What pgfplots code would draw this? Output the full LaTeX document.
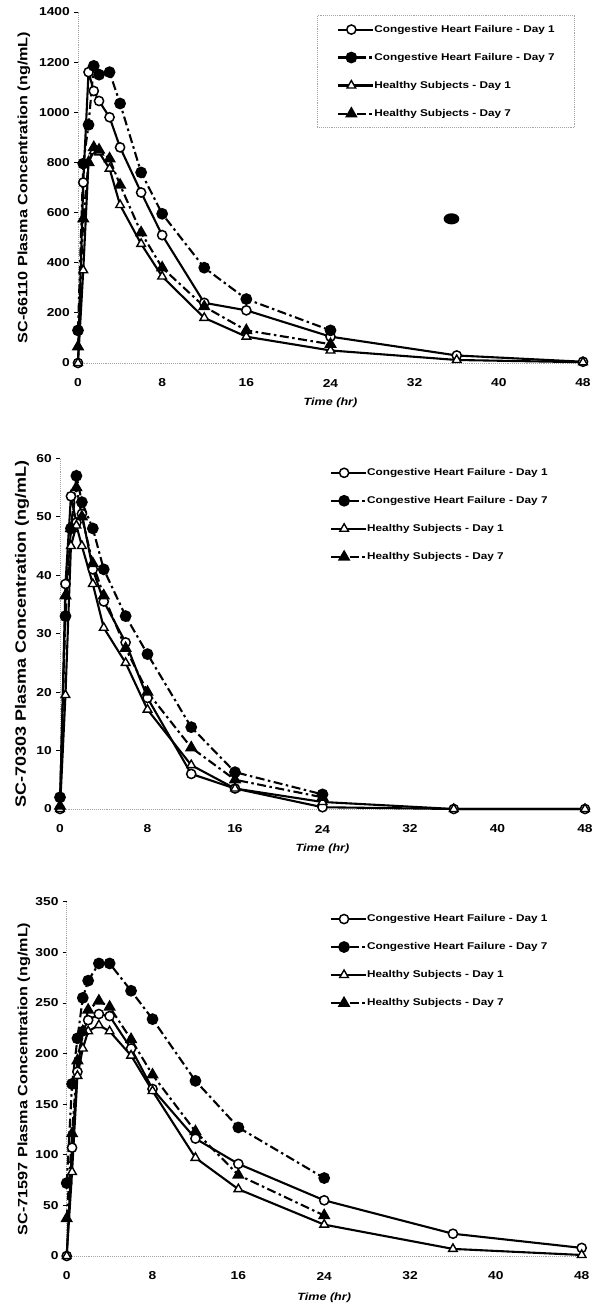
\documentclass[border=0pt]{standalone}
\usepackage{pgfplots}
\pgfplotsset{compat=1.18}
\usepackage{fontspec}
\setmainfont{Liberation Sans}[FakeStretch=1.2]
\pgfplotsset{
  pkstyle/.style={
    scale only axis, clip=false,
    xmin=0, xmax=48, ymin=0,
    axis x line*=bottom, axis y line*=left,
    axis line style={gray!70, densely dotted, line width=0.9bp},
    xtick={0,8,...,48},
    tick align=outside,
    major tick length=4bp,
    xtick style={draw=none},
    ytick style={black, line width=0.7bp, solid},
    /pgf/number format/assume math mode=true,
    /pgf/number format/1000 sep={},
    ticklabel style={font=\fontsize{11.5bp}{13bp}\bfseries\selectfont, inner sep=0pt},
    xticklabel style={anchor=center, yshift=-16bp},
    yticklabel style={anchor=east, xshift=-4bp},
    xlabel={Time (hr)},
    xlabel style={font=\fontsize{10.5bp}{12bp}\bfseries\itshape\selectfont, at={(axis description cs:0.5,-0.113)}, anchor=center},
    legend cell align=left,
    legend style={font=\fontsize{9.8bp}{12bp}\bfseries\selectfont, anchor=north west, row sep=18bp, inner xsep=20bp, inner ysep=9bp,
      nodes={inner sep=0pt, text depth=0.25em, text height=0.75em}},
    legend image code/.code={\draw[mark repeat=2,mark phase=2,##1] plot coordinates {(0bp,0bp) (13bp,0bp) (35bp,0bp)};},
    every axis plot/.append style={line width=2.1bp, black},
  },
  d7/.style={dash pattern=on 9bp off 3.5bp on 2.5bp off 3.5bp},
  chfa/.style={solid, mark=*, mark size=4.6bp, mark options={solid, fill=white, line width=1.5bp}},
  chfb/.style={d7, mark=*, mark size=4.8bp, mark options={solid, fill=black}},
  hsa/.style={solid, mark=triangle*, mark size=5bp, mark options={solid, fill=white, line width=1.4bp}},
  hsb/.style={d7, mark=triangle*, mark size=5.2bp, mark options={solid, fill=black}},
}
\begin{document}
\begin{tikzpicture}
\path[use as bounding box] (0,0) rectangle (593bp,1305bp);

% ---------- Panel 1: SC-66110 ----------
\begin{axis}[pkstyle,
  at={(78bp,942bp)}, anchor=south west,
  width=505bp, height=351bp,
  ymax=1400, ytick={0,200,...,1400},
  ylabel={SC-66110 Plasma Concentration (ng/mL)},
  ylabel style={font=\fontsize{13.5bp}{15bp}\bfseries\selectfont, at={(axis description cs:-0.107,0.5)}, anchor=center},
  legend style={at={(axis description cs:0.473,0.991)}, draw=gray!70, densely dotted, line width=0.9bp},
]
\addplot[chfa] coordinates {(0,0) (0.5,720) (1,1160) (1.5,1085) (2,1045) (3,980) (4,860) (6,680) (8,510) (12,240) (16,210) (24,105) (36,30) (48,5)};
\addlegendentry{Congestive Heart Failure - Day 1}
\addplot[chfb] coordinates {(0,130) (0.5,795) (1,950) (1.5,1185) (2,1150) (3,1160) (4,1035) (6,760) (8,595) (12,380) (16,255) (24,130)};
\addlegendentry{Congestive Heart Failure - Day 7}
\addplot[hsa] coordinates {(0,0) (0.5,370) (1,800) (1.5,845) (2,840) (3,775) (4,630) (6,475) (8,345) (12,180) (16,105) (24,50) (36,12) (48,3)};
\addlegendentry{Healthy Subjects - Day 1}
\addplot[hsb] coordinates {(0,65) (0.5,575) (1,800) (1.5,860) (2,850) (3,815) (4,710) (6,520) (8,380) (12,225) (16,130) (24,75)};
\addlegendentry{Healthy Subjects - Day 7}
\addplot[only marks, mark=*, mark size=4.5bp, mark options={xscale=1.5, fill=black}, forget plot] coordinates {(35.5,575)};
\end{axis}

% ---------- Panel 2: SC-70303 ----------
\begin{axis}[pkstyle,
  at={(60bp,496bp)}, anchor=south west,
  width=525bp, height=350.7bp,
  ymax=60, ytick={0,10,...,60},
  ylabel={SC-70303 Plasma Concentration (ng/mL)},
  ylabel style={font=\fontsize{15bp}{16bp}\bfseries\selectfont, at={(axis description cs:-0.0724,0.5)}, anchor=center},
  legend style={at={(axis description cs:0.476,0.999)}, draw=none},
]
\addplot[chfa] coordinates {(0,0) (0.5,38.5) (1,53.5) (1.5,49) (2,50.5) (3,41) (4,35.5) (6,28.5) (8,19) (12,6) (16,3.5) (24,0.3) (36,0) (48,0)};
\addlegendentry{Congestive Heart Failure - Day 1}
\addplot[chfb] coordinates {(0,2) (0.5,33) (1,48) (1.5,57) (2,52.5) (3,48) (4,41) (6,33) (8,26.5) (12,14) (16,6.3) (24,2.5)};
\addlegendentry{Congestive Heart Failure - Day 7}
\addplot[hsa] coordinates {(0,0) (0.5,19.5) (1,45) (1.5,48.5) (2,45) (3,38.5) (4,31) (6,25) (8,17) (12,7.5) (16,3.5) (24,1.2) (36,0) (48,0)};
\addlegendentry{Healthy Subjects - Day 1}
\addplot[hsb] coordinates {(0,0.5) (0.5,36.5) (1,48) (1.5,55) (2,50) (3,42) (4,36.5) (6,27.5) (8,20) (12,10.5) (16,5) (24,2)};
\addlegendentry{Healthy Subjects - Day 7}
\end{axis}

% ---------- Panel 3: SC-71597 ----------
\begin{axis}[pkstyle,
  at={(66.7bp,49bp)}, anchor=south west,
  width=515bp, height=354.3bp,
  ymax=350, ytick={0,50,...,350},
  ylabel={SC-71597 Plasma Concentration (ng/mL)},
  ylabel style={font=\fontsize{13.5bp}{15bp}\bfseries\selectfont, at={(axis description cs:-0.083,0.5)}, anchor=center},
  xlabel style={at={(axis description cs:0.5,-0.118)}},
  legend style={at={(axis description cs:0.472,0.991)}, draw=none},
]
\addplot[chfa] coordinates {(0,0) (0.5,107) (1,182) (1.5,222) (2,233) (3,239) (4,237) (6,205) (8,165) (12,116) (16,91) (24,55) (36,22) (48,8)};
\addlegendentry{Congestive Heart Failure - Day 1}
\addplot[chfb] coordinates {(0,72) (0.5,170) (1,215) (1.5,255) (2,272) (3,289) (4,289) (6,262) (8,234) (12,173) (16,127) (24,77)};
\addlegendentry{Congestive Heart Failure - Day 7}
\addplot[hsa] coordinates {(0,0) (0.5,83) (1,178) (1.5,205) (2,222) (3,228) (4,222) (6,198) (8,163) (12,97) (16,66) (24,31) (36,7) (48,1)};
\addlegendentry{Healthy Subjects - Day 1}
\addplot[hsb] coordinates {(0,37) (0.5,121) (1,193) (1.5,222) (2,243) (3,252) (4,246) (6,214) (8,179) (12,123) (16,80) (24,40)};
\addlegendentry{Healthy Subjects - Day 7}
\end{axis}
\end{tikzpicture}
\end{document}
